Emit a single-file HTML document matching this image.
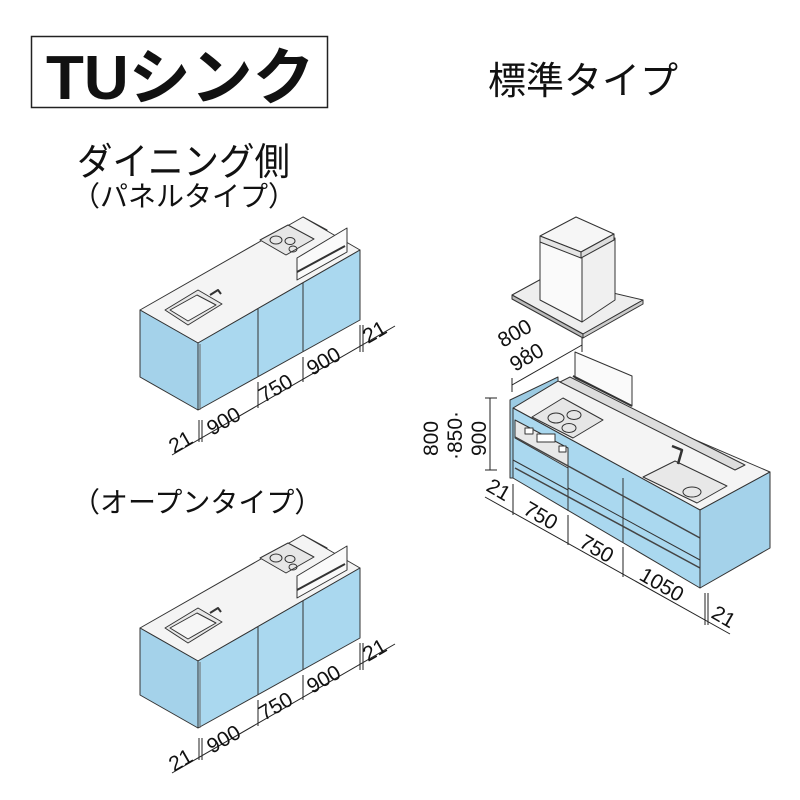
<!DOCTYPE html>
<html><head><meta charset="utf-8"><style>
html,body{margin:0;padding:0;background:#fff;}
svg{display:block}
text{font-family:"Liberation Sans","Noto Sans CJK JP",sans-serif;fill:#111}
</style></head><body>
<svg width="800" height="800" viewBox="0 0 800 800" xmlns="http://www.w3.org/2000/svg">
<defs>
<g id="k" stroke="#333" stroke-width="1" stroke-linejoin="round">
  <polygon points="303,217 327,230 327,240 303,228" fill="#9ccbe3"/>
  <polygon points="140,310 303,217 360,250 198,343" fill="#f4f4f4"/>
  <polygon points="260,240 288,225 314,239 286,255" fill="#e6e6e6"/>
  <ellipse cx="276" cy="240" rx="6" ry="4" fill="none"/>
  <ellipse cx="290" cy="241" rx="5" ry="3.5" fill="none"/>
  <ellipse cx="293" cy="249" rx="4" ry="3" fill="none"/>
  <polygon points="297,258 347,228 347,252 297,280" fill="#fafafa"/>
  <line x1="297" y1="272" x2="345" y2="246" stroke-width="2"/>
  <polygon points="165,310 198,290 222,304 188,325" fill="#e8e8e8"/>
  <polygon points="170,310 197,295 216,305 188,321" fill="#f6f6f6"/>
  <path d="M210,295 l8,-5 l3,4" fill="none" stroke-width="2"/>
  <polygon points="198,343 360,250 360,320 198,410" fill="#aad8ef"/>
  <line x1="258" y1="309" x2="258" y2="377"/>
  <line x1="303" y1="283" x2="303" y2="352"/>
  <polygon points="140,310 198,343 198,410 140,377" fill="#a4d2ea"/>
  <line x1="200" y1="344" x2="200" y2="410" stroke="#666"/>
  <g stroke="#222" fill="none">
    <line x1="172" y1="455" x2="395" y2="326"/>
    <line x1="199" y1="420" x2="199" y2="442"/><line x1="202" y1="420" x2="202" y2="442"/>
    <line x1="258" y1="382" x2="258" y2="408"/>
    <line x1="303" y1="357" x2="303" y2="382"/>
    <line x1="360" y1="325" x2="360" y2="352"/><line x1="363" y1="325" x2="363" y2="352"/>
  </g>
  <g stroke="none" font-size="21">
    <text transform="translate(174,454) rotate(-30)">21</text>
    <text transform="translate(212,436) rotate(-30)">900</text>
    <text transform="translate(264,403) rotate(-30)">750</text>
    <text transform="translate(312,376) rotate(-30)">900</text>
    <text transform="translate(368,344) rotate(-30)">21</text>
  </g>
</g>
</defs>

<rect x="31.5" y="36.5" width="296" height="71" fill="none" stroke="#222" stroke-width="1.5"/>
<text x="46" y="99" font-size="62" font-weight="bold">TUシンク</text>
<text x="488" y="94" font-size="38">標準タイプ</text>
<text x="77" y="175" font-size="38" textLength="213" lengthAdjust="spacingAndGlyphs">ダイニング側</text>
<text x="72" y="206" font-size="28">（パネルタイプ）</text>
<text x="72" y="512" font-size="28">（オープンタイプ）</text>

<use href="#k"/>
<use href="#k" transform="translate(0,318)"/>

<g stroke="#333" stroke-width="1" stroke-linejoin="round">
  <polygon points="512,295 545,277 643,300 583,334" fill="#eee"/>
  <polygon points="512,295 583,334 583,338 512,299" fill="#bbb"/>
  <polygon points="583,334 643,300 643,304 583,338" fill="#ccc"/>
  <polygon points="540,240 582,255 582,322 540,300" fill="#fafafa"/>
  <polygon points="582,255 615,238 615,300 582,322" fill="#f0f0f0"/>
  <polygon points="540,236 576,217 614,234 581,252" fill="#f6f6f6"/>
  <polygon points="540,236 581,252 581,258 540,242" fill="#e5e5e5"/>
  <polygon points="581,252 614,234 614,240 581,258" fill="#ddd"/>
  <polygon points="513,408 558,381 770,472 700,510" fill="#f4f4f4"/>
  <polygon points="560,382 570,377 745,465 735,470" fill="#ddd"/>
  <polygon points="575,352 575,378 632,406 632,376" fill="#fafafa"/>
  <line x1="573" y1="376" x2="632" y2="406" stroke-width="2"/>
  <polygon points="532,417 563,398 603,420 573,438" fill="#e6e6e6"/>
  <ellipse cx="556" cy="418" rx="8" ry="5" fill="none"/>
  <ellipse cx="574" cy="415" rx="7" ry="4.5" fill="none"/>
  <ellipse cx="569" cy="428" rx="7" ry="4.5" fill="none"/>
  <polygon points="643,477 675,461 727,486 697,503" fill="#e8e8e8"/>
  <ellipse cx="692" cy="492" rx="9" ry="5" fill="none"/>
  <path d="M678,464 l4,-14 l-10,-4" fill="none" stroke-width="2.5"/>
  <polygon points="513,408 700,510 700,588 513,478" fill="#aad8ef"/>
  <polygon points="515,420 568,448 568,468 515,438" fill="#e8e8e8"/>
  <rect x="525" y="428" width="8" height="6" fill="#fff"/>
  <rect x="537" y="434" width="18" height="8" fill="#fff"/>
  <rect x="559" y="446" width="7" height="6" fill="#fff"/>
  <line x1="568" y1="448" x2="568" y2="511"/>
  <line x1="623" y1="478" x2="623" y2="543"/>
  <line x1="515" y1="437" x2="700" y2="538" stroke="#444" stroke-width="1.5"/>
  <line x1="515" y1="468" x2="700" y2="568" stroke="#444" stroke-width="1.5"/>
  <line x1="513" y1="460" x2="568" y2="490"/>
  <line x1="568" y1="488" x2="700" y2="560"/>
  <polygon points="510,400 558,377 558,381 513,408 513,478 510,478" fill="#9ccbe3"/>
  <polygon points="700,510 770,472 770,548 700,588" fill="#a4d2ea"/>
</g>
<g stroke="#222" fill="none">
  <line x1="512" y1="385" x2="582" y2="345"/>
  <line x1="512" y1="378" x2="512" y2="392"/>
  <line x1="582" y1="338" x2="582" y2="352"/>
  <line x1="490" y1="398" x2="490" y2="470"/>
  <line x1="485" y1="398" x2="497" y2="398"/>
  <line x1="485" y1="470" x2="497" y2="470"/>
  <line x1="485" y1="497" x2="730" y2="634"/>
  <line x1="513" y1="484" x2="513" y2="515"/>
  <line x1="568" y1="515" x2="568" y2="545"/>
  <line x1="623" y1="547" x2="623" y2="577"/>
  <line x1="705" y1="593" x2="705" y2="625"/><line x1="708" y1="593" x2="708" y2="625"/>
</g>
<g font-size="21">
  <text transform="translate(503,348) rotate(-30)">800</text>
  <text transform="translate(522,355) rotate(-30)">·</text>
  <text transform="translate(515,372) rotate(-30)">980</text>
  <text transform="translate(438,456) rotate(-90)">800</text>
  <text transform="translate(462,460) rotate(-90)">·850·</text>
  <text transform="translate(486,456) rotate(-90)">900</text>
  <text transform="translate(485,490) rotate(30)">21</text>
  <text transform="translate(522,513) rotate(30)">750</text>
  <text transform="translate(578,546) rotate(30)">750</text>
  <text transform="translate(638,579) rotate(30)">1050</text>
  <text transform="translate(710,617) rotate(30)">21</text>
</g>
</svg>
</body></html>
